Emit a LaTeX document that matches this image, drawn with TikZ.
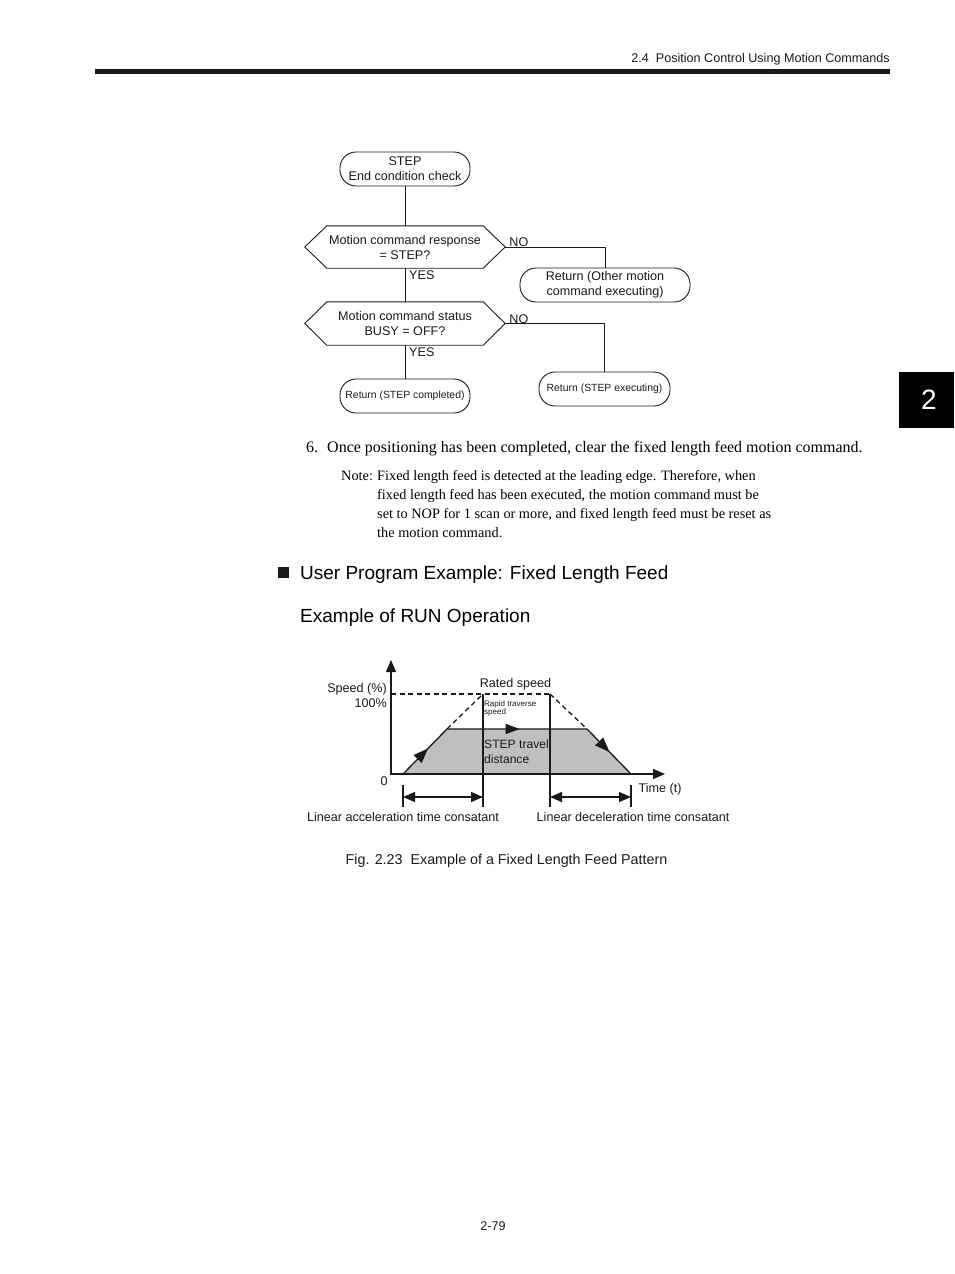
\documentclass[tikz,border=0pt]{standalone}
\usepackage{fontspec}
\setmainfont{Liberation Sans}
\newfontfamily\bodyserif{Liberation Serif}
\usetikzlibrary{arrows.meta,positioning,calc,decorations.markings}
\definecolor{cInk}{HTML}{1A1A1A}
\definecolor{cArea}{HTML}{BFBFBF}
\newcommand{\fcfont}{\fontsize{12.6pt}{15pt}\selectfont}
\newcommand{\smfont}{\fontsize{10.4pt}{12pt}\selectfont}
\newcommand{\tinyfont}{\fontsize{8pt}{8pt}\selectfont}
% hexagonal decision outline round a named node, with tip coordinates
\newcommand{\hexof}[1]{%
  \draw[link] (#1.north west) -- (#1.north east) -- ([xshift=22pt]#1.east) coordinate (#1-e)
    -- (#1.south east) -- (#1.south west) -- ([xshift=-22pt]#1.west) coordinate (#1-w) -- cycle;}

\begin{document}
\begin{tikzpicture}[
  x=1pt,y=-1pt,
  fc/.style={font=\fcfont,align=center,color=cInk},
  term/.style={fc,draw,line width=0.9pt,rounded corners=16pt,minimum height=34pt,inner sep=1pt},
  dec/.style={fc,minimum width=156pt,minimum height=42pt,inner sep=0pt},
  yn/.style={font=\fcfont,color=cInk,inner sep=1pt},
  link/.style={line width=0.9pt,color=cInk},
  gr/.style={line width=1.3pt,color=cInk},
  ax/.style={gr,-{Triangle[length=12pt,width=10pt]}},
  dim/.style={gr,{Triangle[length=12pt,width=10pt]}-{Triangle[length=12pt,width=10pt]}},
  dsh/.style={gr,dash pattern=on 5pt off 3.5pt},
  gt/.style={font=\fcfont,color=cInk,inner sep=0pt},
]
\useasboundingbox[fill=white] (0,0) rectangle (954,1274);

% ============================================================ page header
\node[gt,anchor=base east] (head) at (890,62.5) {2.4\ \ Position Control Using Motion Commands};
\fill[cInk] (95,68.5) rectangle (890,74);
\fill[black] (899,372) rectangle (954,428);
\node[font=\fontsize{28pt}{30pt}\selectfont,color=white,inner sep=0pt] (tab) at (929,400) {2};

% ============================================================ A. flowchart
\node[term,minimum width=130pt] (start) at (405,169) {STEP\\End condition check};
\node[dec] (q1) at (405,247) {Motion command response\\= STEP?};
\hexof{q1}
\node[term,minimum width=170pt] (r1) at (605,285) {Return (Other motion\\command executing)};
\node[dec,minimum height=43pt] (q2) at (405,323.5) {Motion command status\\BUSY = OFF?};
\hexof{q2}
\node[term,font=\smfont,minimum width=131pt] (r2) at (604.5,389) {Return (STEP executing)};
\node[term,font=\smfont,minimum width=130pt] (r3) at (405,396) {Return (STEP completed)};

\draw[link] (start) -- (q1);
\draw[link] (q1) -- (q2);
\draw[link] (q2) -- (r3);
\draw[link] (q1-e) -| (r1.north);
\draw[link] (q2-e) -| (r2.north);
% branch labels
\node[yn,anchor=south west] at ($(q1-e)+(3,1)$) {NO};
\node[yn,anchor=south west] at ($(q2-e)+(3,1)$) {NO};
\node[yn,anchor=north west] at ($(q1.south)+(3,1)$) {YES};
\node[yn,anchor=north west] at ($(q2.south)+(3,1)$) {YES};

% ============================================================ B. step 6 text
\begin{scope}[font=\bodyserif\fontsize{16pt}{19pt}\selectfont]
  \node[anchor=base west,inner sep=0pt] (six) at (306,452) {6.};
  \node[anchor=base west,inner sep=0pt] (sixtxt) at (327,452)
    {Once positioning has been completed, clear the fixed length feed motion command.};
\end{scope}
\begin{scope}[font=\bodyserif\fontsize{14.3pt}{19pt}\selectfont]
  \node[anchor=base west,inner sep=0pt] (note) at (341,480) {Note:};
  % base of a multi-line node = baseline of its last line
  \node[anchor=base west,inner sep=0pt,align=left] (notetxt) at (377,537)
    {Fixed length feed is detected at the leading edge. Therefore, when\\
     fixed length feed has been executed, the motion command must be\\
     set to NOP for 1 scan or more, and fixed length feed must be reset as\\
     the motion command.};
\end{scope}

% ============================================================ C. headings
\fill[cInk] (278,566.5) rectangle ++(11,11.5);
\node[anchor=base west,inner sep=0pt,font=\fontsize{19pt}{22pt}\selectfont] (h1) at (300,579)
  {User Program Example: Fixed Length Feed};
\node[anchor=base west,inner sep=0pt,font=\fontsize{19pt}{22pt}\selectfont] (h2) at (300,622)
  {Example of RUN Operation};

% ============================================================ D. speed pattern
\coordinate (o) at (391,774);
\coordinate (ytop) at (391,660);
\coordinate (xend) at (665,774);
\coordinate (ya) at (391,694);
\coordinate (p1) at (403,774);
\coordinate (p2) at (447,729);
\coordinate (p3) at (587,729);
\coordinate (p4) at (631,774);
\coordinate (rs1) at (483,694);
\coordinate (rs2) at (550,694);
% shaded travel area
\fill[cArea] (p1) -- (p2) -- (p3) -- (p4) -- cycle;
\draw[gr,decoration={markings,
    mark=at position 0.135 with {\arrow{Triangle[length=15pt,width=11pt]}},
    mark=at position 0.51 with {\arrow{Triangle[length=14pt,width=10pt]}},
    mark=at position 0.885 with {\arrow{Triangle[length=15pt,width=11pt]}}},
  postaction=decorate] (p1) -- (p2) -- (p3) -- (p4);
% rated speed (dashed)
\draw[dsh] (ya) -- (rs2);
\draw[dsh] (p2) -- (rs1);
\draw[dsh] (rs2) -- (p3);
% time markers
\coordinate (m1) at (403,785); \coordinate (m1b) at (403,807);
\coordinate (m2) at (483,807);
\coordinate (m3) at (550,807);
\coordinate (m4) at (631,785); \coordinate (m4b) at (631,807);
\draw[gr] (rs1) -- (m2);
\draw[gr] (rs2) -- (m3);
\draw[gr] (m1) -- (m1b);
\draw[gr] (m4) -- (m4b);
\draw[dim] ($(m1b)+(0,-10)$) -- ($(m2)+(0,-10)$);
\draw[dim] ($(m3)+(0,-10)$) -- ($(m4b)+(0,-10)$);
% axes
\draw[ax] (o) -- (ytop);
\draw[ax] ($(o)+(-0.6,0)$) -- (xend);
% labels
\node[gt,anchor=east,align=right] (spd) at (387,695.5) {Speed (\%)\\100\%};
\node[gt] (zero) at (384,781) {0};
\node[gt] (rated) at (515.5,684) {Rated speed};
\node[gt,anchor=north west,align=left,font=\tinyfont] (rapid) at (484,700) {Rapid traverse\\speed};
\node[gt,anchor=west,align=left,font=\fontsize{12.1pt}{15pt}\selectfont] (travel) at (484,751.5) {STEP travel\\distance};
\node[gt] (time) at (660,789) {Time (t)};
\node[gt] (acc) at (403,817) {Linear acceleration time consatant};
\node[gt] (dcc) at (633,817) {Linear deceleration time consatant};

% ============================================================ caption, folio
\node[gt,font=\fontsize{14.3pt}{16pt}\selectfont] (cap) at (506.5,861) {Fig. 2.23\ \ Example of a Fixed Length Feed Pattern};
\node[gt] (folio) at (493,1226) {2-79};

\end{tikzpicture}
\end{document}
